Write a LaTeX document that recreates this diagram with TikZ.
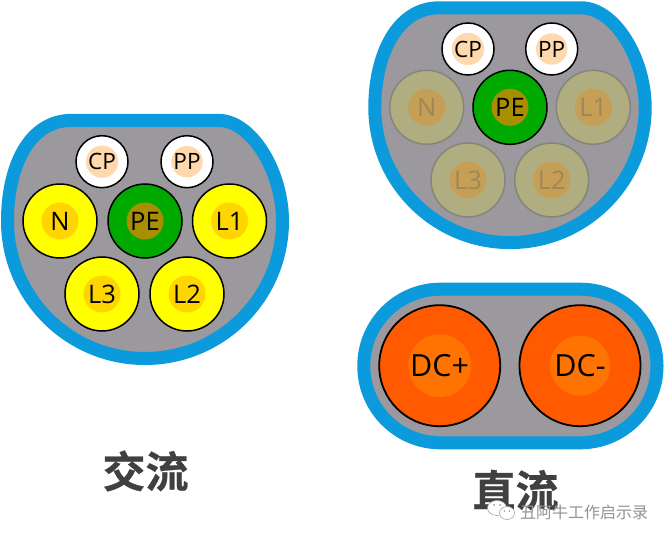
\documentclass[tikz,border=0pt]{standalone}
\usepackage{fontspec}
\setmainfont{Open Sans}
\newfontfamily\cjk{Noto Sans CJK SC}
\newfontfamily\cjkb[FakeBold=0.6]{Noto Sans CJK SC Bold}
\definecolor{shellblue}{HTML}{0B9ADB}
\definecolor{shellgray}{HTML}{9B999D}
\definecolor{pinyellow}{HTML}{FFFF00}
\definecolor{coreyellow}{HTML}{FFD500}
\definecolor{pingreen}{HTML}{00A900}
\definecolor{coregreen}{HTML}{A88E00}
\definecolor{corepeach}{HTML}{FFD8AE}
\definecolor{fadefill}{HTML}{B0AD80}
\definecolor{fadecore}{HTML}{C49F55}
\definecolor{fadeline}{HTML}{85857A}
\definecolor{fadetext}{HTML}{A08558}
\definecolor{pinorange}{HTML}{FF5A00}
\definecolor{coreorange}{HTML}{FF7300}
\definecolor{headtext}{HTML}{404040}
\tikzset{
  x=1pt,y=-1pt,
  shell/.style={draw=shellblue,fill=shellgray,line width=13pt},
  pinbase/.style={circle,draw=black,line width=1.5pt,inner sep=0pt,text=black},
  bigpin/.style={pinbase,minimum size=74pt},
  smallpin/.style={pinbase,minimum size=52pt,fill=white},
  dcpin/.style={pinbase,minimum size=121pt,fill=pinorange,line width=1.8pt},
  core/.style={circle,inner sep=0pt,font=\fontsize{25.5}{25.5}\selectfont},
  bigcore/.style={core,minimum size=37pt},
  smallcore/.style={core,minimum size=26pt,fill=corepeach,text=black,font=\fontsize{22.5}{22.5}\selectfont},
  dccore/.style={core,minimum size=60pt,fill=coreorange,text=black,font=\fontsize{30.5}{30.5}\selectfont},
  heading/.style={inner sep=0pt,text=headtext,font=\cjkb\fontsize{43}{43}\selectfont},
  marktext/.style={inner sep=0pt,text=gray!85,font=\cjk\fontsize{16}{16}\selectfont},
  bubble/.style={draw=gray!70,fill=white,line width=0.6pt}
}
\begin{document}
\begin{tikzpicture}
\useasboundingbox (0,0) rectangle (669,540);
\fill[white] (0,0) rectangle (669,540);
% AC shell
\path[shell] (72,120.3) -- (218,120.3)
  .. controls (252,120.3) and (282.5,172) .. (282.5,221)
  .. controls (282.5,297) and (221,358.5) .. (145,358.5)
  .. controls (69,358.5) and (7.5,297) .. (7.5,221)
  .. controls (7.5,168) and (28,120.3) .. (72,120.3) -- cycle;
\node[smallpin] (cpa) at (102,161.7) {};
\node[smallpin] (ppa) at (187,161.7) {};
\node[bigpin,fill=pinyellow] (na) at (60,221) {};
\node[bigpin,fill=pingreen] (pea) at (145,221) {};
\node[bigpin,fill=pinyellow] (laa) at (229.5,221) {};
\node[bigpin,fill=pinyellow] (lca) at (102,294) {};
\node[bigpin,fill=pinyellow] (lba) at (187,294) {};
\node[smallcore] at (cpa) {CP};
\node[smallcore] at (ppa) {PP};
\node[bigcore,fill=coreyellow] at (na) {N};
\node[bigcore,fill=coregreen] at (pea) {PE};
\node[bigcore,fill=coreyellow] at (laa) {L1};
\node[bigcore,fill=coreyellow] at (lca) {L3};
\node[bigcore,fill=coreyellow] at (lba) {L2};
% DC upper shell
\path[shell] (439,7.8) -- (581,7.8)
  .. controls (615,7.8) and (645.2,59) .. (645.2,107.3)
  .. controls (645.2,182) and (585,242.6) .. (510,242.6)
  .. controls (435,242.6) and (374.8,182) .. (374.8,107.3)
  .. controls (374.8,55) and (397,7.8) .. (439,7.8) -- cycle;
\node[smallpin] (cpb) at (468,49) {};
\node[smallpin] (ppb) at (551.7,49) {};
\node[bigpin,fill=fadefill,draw=fadeline] (nb) at (426.7,107.3) {};
\node[bigpin,fill=pingreen] (peb) at (510,107.3) {};
\node[bigpin,fill=fadefill,draw=fadeline] (lab) at (593.3,107.3) {};
\node[bigpin,fill=fadefill,draw=fadeline] (lcb) at (468,180) {};
\node[bigpin,fill=fadefill,draw=fadeline] (lbb) at (551.7,180) {};
\node[smallcore] at (cpb) {CP};
\node[smallcore] at (ppb) {PP};
\node[bigcore,fill=fadecore,text=fadetext] at (nb) {N};
\node[bigcore,fill=coregreen] at (peb) {PE};
\node[bigcore,fill=fadecore,text=fadetext] at (lab) {L1};
\node[bigcore,fill=fadecore,text=fadetext] at (lcb) {L3};
\node[bigcore,fill=fadecore,text=fadetext] at (lbb) {L2};
% DC lower shell
\draw[shell,rounded corners=76.6pt] (363.8,289.2) rectangle (657,442.8);
\node[dcpin] (dcp) at (439.7,365.7) {};
\node[dcpin] (dcm) at (580,365.7) {};
\node[dccore] at (dcp) {DC+};
\node[dccore] at (dcm) {DC-};
% headings
\node[heading] (ac) at (145.5,471) {交流};
\node[heading] (dc) at (515.5,490) {直流};
% watermark
\path[bubble] (497,508) ellipse (9.5pt and 7.5pt);
\path[bubble] (507,513) ellipse (7.5pt and 6.5pt);
\fill[gray!80] (494,505) circle (1pt) (500,505) circle (1pt) (504.5,511) circle (0.8pt) (509.5,511) circle (0.8pt);
\node[marktext,anchor=west] (wm) at (520,512) {丑阿牛工作启示录};
\end{tikzpicture}
\end{document}
